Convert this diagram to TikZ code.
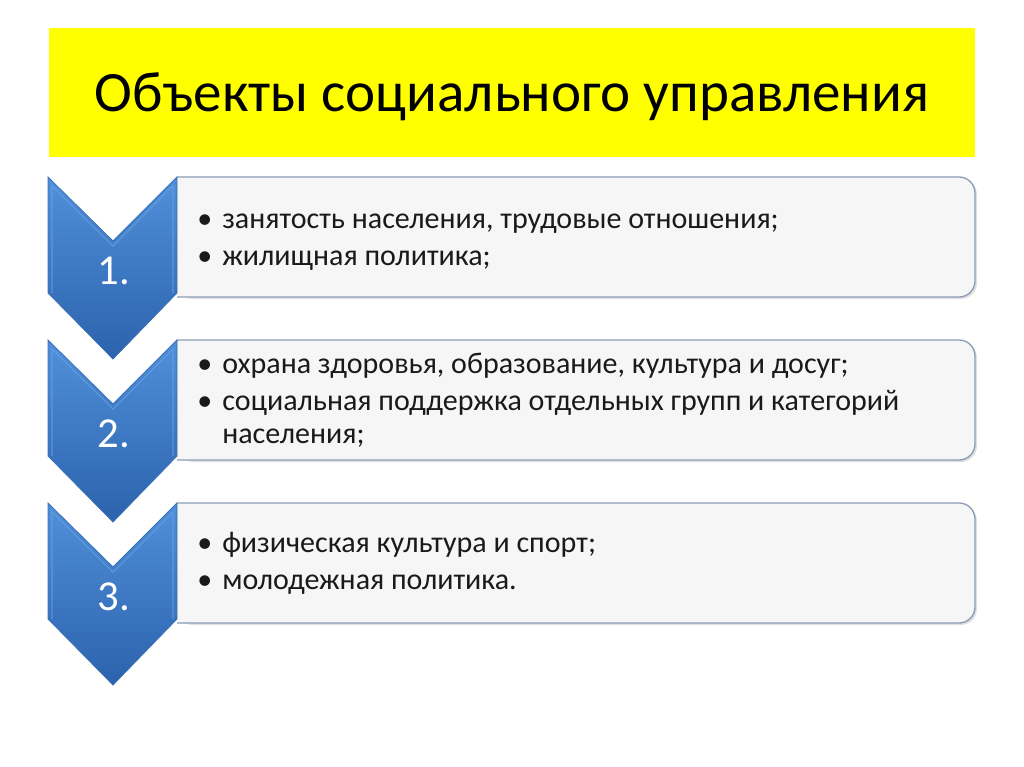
\documentclass[tikz,border=0pt]{standalone}
\usepackage{fontspec}
\setmainfont{Carlito}
\definecolor{ttlyellow}{HTML}{FFFF00}
\definecolor{chevtop}{HTML}{5090DA}
\definecolor{chevbot}{HTML}{2C62AC}
\definecolor{chevedge}{HTML}{3A70B6}
\definecolor{chevlight}{HTML}{6FA6E4}
\definecolor{boxfill}{HTML}{F6F6F7}
\definecolor{boxedge}{HTML}{8A9DB5}
\definecolor{txt}{HTML}{1A1A1A}
\tikzset{
  chevron/.style={top color=chevtop, bottom color=chevbot, draw=chevedge, line width=0.6pt, line join=miter},
  chevbevel/.style={draw=chevlight, line width=0.8pt, opacity=0.6, line join=miter},
  itembox/.style={fill=boxfill, draw=boxedge, line width=1pt, rounded corners=12pt},
  boxshadow/.style={fill=black!12, rounded corners=12pt},
  num/.style={anchor=base, text=white, font=\fontsize{32}{38}\selectfont, inner sep=0pt},
  bul/.style={anchor=base west, text=txt, font=\fontsize{22.5}{27}\selectfont, inner sep=0pt},
  itemtext/.style={anchor=base west, text=txt, font=\fontsize{22.5}{27}\selectfont, inner sep=0pt},
  titletext/.style={anchor=base, text=black, font=\fontsize{42.8}{50}\selectfont, inner sep=0pt}
}
\begin{document}
\begin{tikzpicture}[x=0.75pt,y=-0.75pt]
\useasboundingbox (0,0) rectangle (1024,767);
\fill[white] (0,0) rectangle (1024,767);
% title
\fill[ttlyellow] (49,28) rectangle (975,157);
\node[titletext] (title) at (512,112) {Объекты социального управления};
% boxes
\foreach \i/\t in {1/177,2/340,3/503}{
  \fill[boxshadow] (177,\t+2) -- (977,\t+2) -- (977,\t+122) -- (177,\t+122) -- cycle;
  \path[itembox] (177,\t) -- (975,\t) -- (975,\t+120) -- (177,\t+120);
}
% chevrons
\foreach \i/\t in {1/177,2/340,3/503}{
  \path[chevron] (48,\t) -- (113,\t+64) -- (177,\t) -- (177,\t+116) -- (113,\t+182) -- (48,\t+116) -- cycle;
  \draw[chevbevel] (52,\t+116) -- (52,\t+9) -- (113,\t+69) -- (173,\t+9) -- (173,\t+116);
}
\node[num] (n1) at (114,284) {1.};
\node[num] (n2) at (114,447) {2.};
\node[num] (n3) at (114,610) {3.};
% box 1
\node[bul] (b1a) at (197,228) {•};
\node[itemtext] (t1a) at (222,228) {занятость населения, трудовые отношения;};
\node[bul] (b1b) at (197,265) {•};
\node[itemtext] (t1b) at (222,265) {жилищная политика;};
% box 2
\node[bul] (b2a) at (197,373) {•};
\node[itemtext] (t2a) at (222,373) {охрана здоровья, образование, культура и досуг;};
\node[bul] (b2b) at (197,410) {•};
\node[itemtext] (t2b) at (222,410) {социальная поддержка отдельных групп и категорий};
\node[itemtext] (t2c) at (222,443) {населения;};
% box 3
\node[bul] (b3a) at (197,552) {•};
\node[itemtext] (t3a) at (222,552) {физическая культура и спорт;};
\node[bul] (b3b) at (197,589) {•};
\node[itemtext] (t3b) at (222,589) {молодежная политика.};
\end{tikzpicture}
\end{document}
